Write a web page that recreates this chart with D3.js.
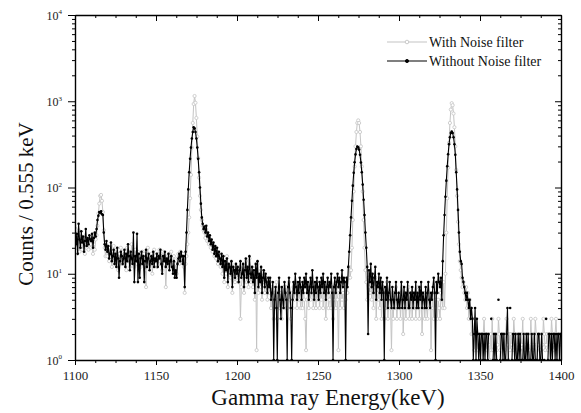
<!DOCTYPE html>
<html>
<head>
<meta charset="utf-8">
<script src="https://cdn.jsdelivr.net/npm/d3@7"></script>
<style>
  body { margin: 0; background: #fff; }
  svg text { font-family: "Liberation Serif", "Times New Roman", serif; }
</style>
</head>
<body>
<svg id="chart" width="581" height="413"></svg>
<script>
// Spectrum: one value per channel, channel width 0.555 keV starting at 1100 keV
const energyStart = 1100;
const channelWidth = 0.555;

// Without Noise filter (black, filled markers); 0 = empty channel
const countsWithout = [
  34, 22, 29, 17, 38, 25, 20, 31, 23, 27, 18, 24, 33, 21, 26, 22, 28, 25,
  24, 29, 20, 26, 30, 27, 33, 42, 47, 52, 51, 53, 49, 48, 30, 22, 19, 24,
  18, 21, 15, 17, 23, 14, 16, 19, 13, 17, 12, 20, 15, 9, 14, 18, 16, 13,
  15, 19, 12, 17, 14, 22, 16, 11, 18, 15, 13, 30, 8, 16, 14, 29, 8, 17,
  9, 15, 18, 13, 16, 8, 14, 19, 12, 15, 17, 11, 14, 16, 13, 18, 12, 15,
  14, 17, 12, 16, 15, 19, 13, 10, 16, 14, 18, 12, 15, 13, 17, 11, 14, 16,
  12, 10, 14, 9, 11, 9, 13, 15, 17, 14, 18, 16, 13, 16, 7, 18, 30, 55,
  95, 150, 215, 290, 370, 440, 500, 485, 440, 370, 290, 215, 150, 100, 65, 45, 38, 33,
  35, 30, 36, 27, 30, 24, 28, 22, 25, 19, 23, 17, 21, 16, 20, 14, 18, 15,
  13, 17, 12, 16, 9, 14, 11, 15, 8, 13, 12, 10, 14, 7, 12, 11, 9, 13,
  10, 12, 8, 11, 14, 9, 10, 13, 7, 11, 15, 9, 12, 8, 16, 10, 9, 12,
  8, 11, 6, 13, 9, 14, 7, 10, 8, 12, 6, 9, 11, 7, 10, 8, 6, 9,
  7, 9, 5, 6, 8, 1, 5, 7, 4, 1, 6, 9, 5, 3, 7, 5, 4, 8,
  6, 5, 1, 7, 9, 6, 4, 1, 5, 8, 6, 10, 7, 5, 8, 6, 9, 7,
  5, 8, 6, 9, 7, 10, 6, 8, 5, 7, 9, 6, 11, 7, 5, 8, 6, 9,
  7, 5, 8, 6, 9, 7, 10, 6, 8, 5, 7, 9, 6, 8, 7, 10, 6, 1,
  7, 9, 6, 8, 10, 7, 9, 6, 8, 11, 7, 9, 8, 1, 9, 7, 12, 18,
  28, 45, 70, 105, 148, 196, 242, 279, 299, 292, 275, 240, 195, 150, 108, 72, 48, 30,
  20, 12, 2, 11, 8, 13, 7, 10, 6, 9, 12, 5, 8, 7, 10, 6, 9, 5,
  8, 6, 1, 7, 5, 9, 4, 6, 8, 5, 4, 7, 5, 4, 6, 8, 5, 4,
  6, 4, 5, 8, 4, 5, 7, 4, 6, 5, 8, 4, 4, 6, 5, 7, 4, 6,
  5, 8, 4, 6, 4, 7, 5, 8, 4, 6, 5, 4, 7, 4, 6, 8, 5, 4,
  6, 5, 7, 9, 6, 1, 8, 6, 10, 8, 7, 9, 5, 14, 28, 48, 78, 120,
  176, 243, 317, 383, 429, 446, 429, 383, 317, 240, 150, 95, 55, 30, 18, 14, 13, 9,
  8, 7, 6, 5, 6, 5, 4, 5, 3, 4, 3, 1, 2, 4, 1, 3, 2, 1,
  2, 1, 2, 2, 1, 2, 1, 2, 2, 1, 2, 0, 0, 3, 0, 1, 2, 1,
  2, 1, 0, 5, 0, 1, 2, 2, 1, 2, 1, 1, 2, 4, 1, 0, 4, 0,
  1, 2, 2, 1, 2, 1, 1, 2, 1, 2, 1, 0, 1, 2, 1, 1, 2, 1,
  2, 1, 0, 1, 2, 1, 1, 2, 1, 0, 1, 2, 2, 1, 1, 2, 1, 0,
  1, 0, 3, 0, 1, 2, 2, 1, 2, 1, 2, 2, 1, 2, 1, 2, 2, 1,
  2
];

// With Noise filter (light grey, open markers)
const countsWith = [
  30, 25, 20, 26, 32, 18, 22, 27, 19, 24, 21, 17, 26, 20, 23, 19, 25, 22,
  20, 24, 17, 22, 19, 25, 28, 36, 50, 65, 80, 82, 70, 52, 32, 20, 16, 21,
  16, 19, 14, 20, 17, 12, 18, 21, 15, 13, 19, 16, 11, 17, 14, 20, 13, 18,
  13, 17, 15, 11, 20, 14, 18, 12, 16, 22, 14, 17, 12, 19, 15, 13, 18, 11,
  16, 12, 15, 18, 13, 17, 11, 7, 14, 20, 12, 16, 13, 17, 10, 15, 19, 14,
  15, 12, 17, 14, 19, 13, 16, 11, 18, 15, 13, 7, 12, 16, 14, 17, 15, 18,
  14, 12, 16, 11, 13, 10, 15, 17, 13, 18, 15, 14, 17, 12, 6, 13, 16, 22,
  30, 45, 75, 140, 290, 560, 930, 1150, 960, 640, 390, 220, 130, 80, 55, 42, 36, 32,
  30, 26, 33, 24, 28, 22, 25, 20, 23, 18, 21, 16, 19, 15, 18, 13, 17, 14,
  12, 15, 10, 14, 8, 13, 10, 16, 7, 12, 11, 9, 13, 6, 11, 10, 8, 12,
  9, 11, 8, 10, 3, 7, 9, 12, 6, 10, 14, 8, 11, 7, 15, 9, 8, 11,
  7, 10, 5, 12, 1.3, 13, 6, 9, 7, 11, 5, 8, 10, 6, 9, 7, 5, 8,
  6, 8, 4, 7, 5, 3, 6, 4, 8, 3, 5, 7, 4, 6, 3, 5, 7, 4,
  5, 7, 4, 6, 8, 5, 3, 6, 4, 7, 5, 8, 6, 4, 7, 5, 6, 4,
  6, 4, 7, 5, 3, 1.3, 5, 6, 4, 7, 5, 6, 8, 4, 5, 7, 4, 6,
  5, 7, 4, 6, 5, 8, 4, 6, 5, 3, 6, 7, 4, 5, 6, 4, 7, 3,
  5, 6, 4, 7, 5, 1.3, 6, 4, 7, 5, 6, 4, 8, 5, 7, 6, 9, 12,
  9, 11, 20, 42, 90, 175, 300, 440, 560, 600, 560, 440, 300, 175, 90, 42, 20, 11,
  8, 5, 9, 7, 6, 10, 5, 8, 4, 7, 9, 3, 6, 5, 8, 4, 6, 3,
  5, 7, 3, 6, 4, 8, 3, 5, 6, 4, 1.3, 5, 3, 6, 4, 7, 3, 5,
  4, 6, 3, 5, 7, 2, 4, 6, 3, 5, 4, 7, 3, 4, 6, 3, 5, 4,
  6, 3, 5, 4, 7, 3, 5, 6, 2, 4, 6, 3, 5, 4, 3, 6, 4, 5,
  1.3, 4, 6, 3, 5, 4, 6, 3, 5, 4, 3, 6, 5, 4, 8, 4, 10, 30,
  75, 170, 330, 560, 800, 950, 900, 720, 500, 300, 160, 80, 40, 22, 14, 11, 9, 7,
  8, 6, 5, 7, 4, 6, 3, 5, 4, 2, 3, 2, 1.3, 3, 2, 2, 1.3, 2,
  2, 1.5, 2, 1, 2, 3, 1.5, 2, 1.3, 2, 1.5, 1, 2, 1.3, 3, 1.3, 2, 1.5,
  2, 1.3, 1.5, 3, 2, 1.3, 1, 2, 1.5, 2, 1.3, 2, 3, 1.5, 1, 2, 1.3, 2,
  1.5, 1.3, 3, 2, 1.3, 1, 2, 1.5, 2, 1.3, 2, 1.5, 3, 1, 2, 1.3, 1.5, 2,
  2, 1.3, 1, 3, 1.5, 1.3, 2, 1.5, 3, 2, 1, 1.5, 2, 1.3, 1.3, 2, 1.5, 3,
  2, 1.3, 1.5, 2, 1.3, 2, 1, 1.5, 3, 2, 1.3, 1.5, 2, 3, 1.5, 1, 2, 1.5,
  2
];

const xMajorTicks = [1100, 1150, 1200, 1250, 1300, 1350, 1400];
const yMajorTicks = [1, 10, 100, 1000, 10000];
const legendLabels = ['With Noise filter', 'Without Noise filter'];
const xTitle = 'Gamma ray Energy(keV)';
const yTitle = 'Counts / 0.555 keV';

const plot = { left: 75, right: 561, top: 15, bottom: 360 };
const svg = d3.select('#chart');

const x = d3.scaleLinear().domain([1100, 1400]).range([plot.left, plot.right]);
const y = d3.scaleLog().domain([1, 10000]).range([plot.bottom, plot.top]);

// minor ticks: every 12.5 keV, and 2..9 within each decade
const xMinorTicks = d3.range(1100, 1400.1, 12.5).filter(v => !xMajorTicks.includes(v));
const yMinorTicks = [];
[1, 10, 100, 1000].forEach(dec => { for (let k = 2; k <= 9; k++) yMinorTicks.push(dec * k); });

function toPoints(counts) {
  return counts.map((c, i) => ({ e: energyStart + i * channelWidth, c: c }));
}
const seriesWith = toPoints(countsWith);
const seriesWithout = toPoints(countsWithout);

svg.append('clipPath').attr('id', 'clip')
  .append('rect')
  .attr('x', plot.left).attr('y', plot.top)
  .attr('width', plot.right - plot.left).attr('height', plot.bottom - plot.top);

const line = d3.line()
  .defined(d => d.c > 0)
  .x(d => x(d.e))
  .y(d => y(d.c));

const plotArea = svg.append('g').attr('clip-path', 'url(#clip)');

// grey series first, black drawn on top
plotArea.append('path')
  .datum(seriesWith)
  .attr('d', line)
  .attr('fill', 'none')
  .attr('stroke', '#c4c4c4')
  .attr('stroke-width', 1);

plotArea.append('g').selectAll('circle')
  .data(seriesWith.filter(d => d.c > 0))
  .join('circle')
  .attr('cx', d => x(d.e))
  .attr('cy', d => y(d.c))
  .attr('r', 1.6)
  .attr('fill', '#fff')
  .attr('stroke', '#c4c4c4')
  .attr('stroke-width', 0.8);

plotArea.append('path')
  .datum(seriesWithout)
  .attr('d', line)
  .attr('fill', 'none')
  .attr('stroke', '#000')
  .attr('stroke-width', 1.1);

plotArea.append('g').selectAll('circle')
  .data(seriesWithout.filter(d => d.c > 0))
  .join('circle')
  .attr('cx', d => x(d.e))
  .attr('cy', d => y(d.c))
  .attr('r', 1.3)
  .attr('fill', '#000');

// axes
const labelColor = '#222';

function styleAxis(g) {
  g.selectAll('.domain').attr('stroke', '#000').attr('stroke-width', 1.4);
  g.selectAll('.tick line').attr('stroke', '#000').attr('stroke-width', 1);
}

// bottom
svg.append('g')
  .attr('transform', `translate(0,${plot.bottom})`)
  .call(d3.axisBottom(x).tickValues(xMinorTicks).tickSize(3).tickFormat(''))
  .call(g => g.select('.domain').remove())
  .call(styleAxis);
svg.append('g')
  .attr('transform', `translate(0,${plot.bottom})`)
  .call(d3.axisBottom(x).tickValues(xMajorTicks).tickSize(5).tickSizeOuter(0).tickPadding(6).tickFormat(d3.format('d')))
  .call(styleAxis)
  .call(g => g.selectAll('.tick text').attr('font-size', 13).attr('fill', labelColor)
    .style('font-family', '"Liberation Serif", serif'));

// top (ticks pointing into the plot)
svg.append('g')
  .attr('transform', `translate(0,${plot.top})`)
  .call(d3.axisTop(x).tickValues(xMinorTicks).tickSize(-3).tickFormat(''))
  .call(g => g.select('.domain').remove())
  .call(styleAxis);
svg.append('g')
  .attr('transform', `translate(0,${plot.top})`)
  .call(d3.axisTop(x).tickValues(xMajorTicks).tickSize(-6).tickSizeOuter(0).tickFormat(''))
  .call(styleAxis);

// left
svg.append('g')
  .attr('transform', `translate(${plot.left},0)`)
  .call(d3.axisLeft(y).tickValues(yMinorTicks).tickSize(3).tickFormat(''))
  .call(g => g.select('.domain').remove())
  .call(styleAxis);
const gy = svg.append('g')
  .attr('transform', `translate(${plot.left},0)`)
  .call(d3.axisLeft(y).tickValues(yMajorTicks).tickSize(7).tickSizeOuter(0).tickFormat(''))
  .call(styleAxis);
gy.selectAll('.tick').each(function(d) {
  const t = d3.select(this).append('text')
    .attr('x', -13)
    .attr('dy', '0.35em')
    .attr('text-anchor', 'end')
    .attr('fill', labelColor)
    .attr('font-size', 12);
  t.append('tspan').text('10');
  t.append('tspan').attr('font-size', 7).attr('dy', '-0.75em').text(Math.round(Math.log10(d)));
});

// right (ticks pointing into the plot)
svg.append('g')
  .attr('transform', `translate(${plot.right},0)`)
  .call(d3.axisRight(y).tickValues(yMinorTicks).tickSize(-3).tickFormat(''))
  .call(g => g.select('.domain').remove())
  .call(styleAxis);
svg.append('g')
  .attr('transform', `translate(${plot.right},0)`)
  .call(d3.axisRight(y).tickValues(yMajorTicks).tickSize(-6).tickSizeOuter(0).tickFormat(''))
  .call(styleAxis);

// axis titles
svg.append('text')
  .attr('x', (plot.left + plot.right) / 2 + 10)
  .attr('y', 405)
  .attr('text-anchor', 'middle')
  .attr('font-size', 23)
  .attr('fill', '#111')
  .text(xTitle);

svg.append('text')
  .attr('transform', 'translate(33,204) rotate(-90)')
  .attr('text-anchor', 'middle')
  .attr('font-size', 21)
  .attr('fill', '#111')
  .text(yTitle);

// legend
const legend = svg.append('g');
const legendRows = [
  { label: legendLabels[0], stroke: '#c4c4c4', fill: '#fff', r: 1.8 },
  { label: legendLabels[1], stroke: '#000', fill: '#000', r: 1.6 }
];
legendRows.forEach((row, k) => {
  const ly = 42 + k * 19;
  legend.append('line')
    .attr('x1', 387).attr('x2', 427).attr('y1', ly).attr('y2', ly)
    .attr('stroke', row.stroke).attr('stroke-width', 1.1);
  legend.append('circle')
    .attr('cx', 407).attr('cy', ly).attr('r', row.r)
    .attr('fill', row.fill).attr('stroke', row.stroke).attr('stroke-width', 0.9);
  legend.append('text')
    .attr('x', 429).attr('y', ly + 5)
    .attr('font-size', 14)
    .attr('fill', '#111')
    .text(row.label);
});
</script>
</body>
</html>
